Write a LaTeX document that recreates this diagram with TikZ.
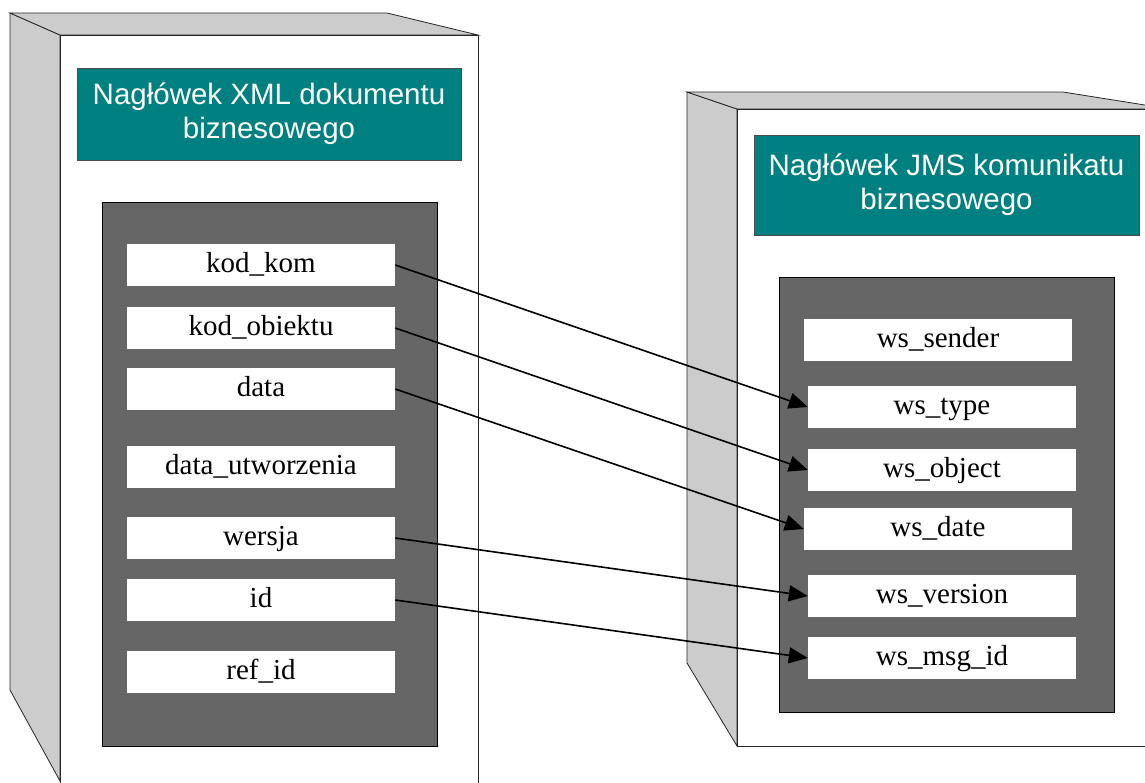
\documentclass[tikz,border=0pt]{standalone}
\usepackage{fontspec}
\setmainfont{Liberation Serif}
\newfontfamily\hdrfont{Liberation Sans}
\usetikzlibrary{arrows.meta}
\definecolor{teal80}{HTML}{008080}
\definecolor{panelgray}{HTML}{666666}
\definecolor{sidegray}{HTML}{CCCCCC}
\begin{document}
\begin{tikzpicture}[x=1pt,y=-1pt,
  cab/.style={draw=black!85,line width=0.8pt},
  hdr/.style={draw=black!70,line width=0.8pt,fill=teal80,text=white,inner sep=0pt,
    align=center,font=\hdrfont\fontsize{29.5}{34}\selectfont},
  panel/.style={draw=black,line width=0.8pt,fill=panelgray},
  field/.style={fill=white,inner sep=0pt,minimum width=268pt,minimum height=42pt,
    text height=20pt,text depth=6pt,font=\fontsize{29}{34}\selectfont},
  link/.style={line width=1.6pt,-{Triangle[length=19pt,width=16pt]}}]
\useasboundingbox (0,0) rectangle (1145,782);
\clip (0,0) rectangle (1145,782);
% left cabinet
\filldraw[cab,fill=sidegray] (10,13) -- (60,35) -- (60,781) -- (10,690) -- cycle;
\filldraw[cab,fill=sidegray] (10,13) -- (387,13) -- (478,35) -- (60,35) -- cycle;
\filldraw[cab,fill=white] (60,35) rectangle (478,800);
% right cabinet
\filldraw[cab,fill=sidegray] (687,92) -- (737,109) -- (737,746) -- (687,663) -- cycle;
\filldraw[cab,fill=sidegray] (687,92) -- (1063,92) -- (1170,109) -- (737,109) -- cycle;
\filldraw[cab,fill=white] (737,109) rectangle (1175,746);
% headers
\node[hdr,minimum width=384pt,minimum height=92pt] (hxml) at (269,114)
  {Nagłówek XML dokumentu\\biznesowego};
\node[hdr,minimum width=385pt,minimum height=100pt] (hjms) at (946.5,185)
  {Nagłówek JMS komunikatu\\biznesowego};
% panels
\filldraw[panel] (102,202) rectangle (437,746);
\filldraw[panel] (779,277) rectangle (1114,712);
% left fields
\node[field] (kodkom) at (261,265) {kod\_kom};
\node[field] (kodobj) at (261,328) {kod\_obiektu};
\node[field] (data) at (261,389) {data};
\node[field] (datautw) at (261,467) {data\_utworzenia};
\node[field] (wersja) at (261,538) {wersja};
\node[field] (id) at (261,600) {id};
\node[field] (refid) at (261,672) {ref\_id};
% right fields
\node[field] (wssender) at (938,340) {ws\_sender};
\node[field] (wstype) at (942,407) {ws\_type};
\node[field] (wsobject) at (942,470) {ws\_object};
\node[field] (wsdate) at (938,529) {ws\_date};
\node[field] (wsversion) at (942,596) {ws\_version};
\node[field] (wsmsgid) at (942,658) {ws\_msg\_id};
% links
\draw[link] (kodkom.east) -- (wstype.west);
\draw[link] (kodobj.east) -- (wsobject.west);
\draw[link] (data.east) -- (wsdate.west);
\draw[link] (wersja.east) -- (wsversion.west);
\draw[link] (id.east) -- (wsmsgid.west);
\end{tikzpicture}
\end{document}
